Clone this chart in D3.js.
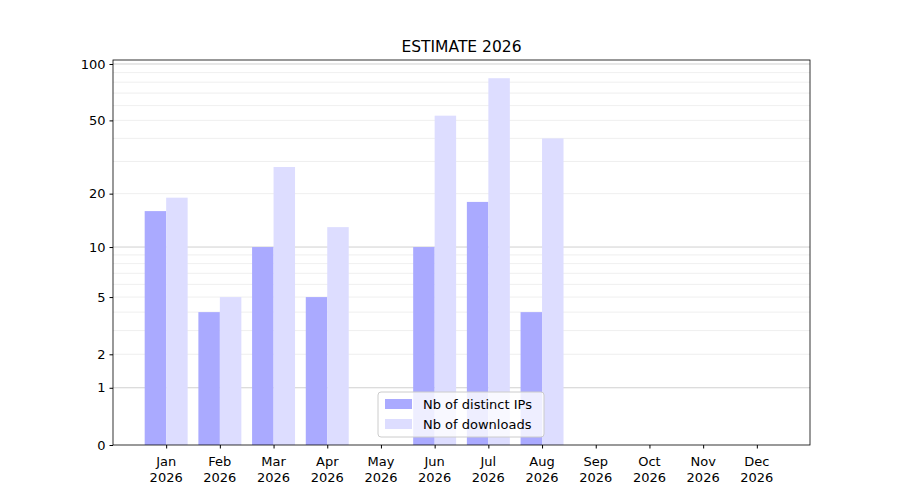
<!DOCTYPE html>
<html><head><meta charset="utf-8">
<script src="https://cdn.jsdelivr.net/npm/d3@7"></script>
<style>body{margin:0;background:#fff}text{font-family:"DejaVu Sans",sans-serif}</style>
</head><body><svg id="c" width="900" height="500"></svg>
<script>
const months = ["Jan","Feb","Mar","Apr","May","Jun","Jul","Aug","Sep","Oct","Nov","Dec"];
const ips = [16,4,10,5,0,10,18,4,0,0,0,0];
const downloads = [19,5,28,13,0,53,84,40,0,0,0,0];
const yTicks = [0,1,2,5,10,20,50,100];
const majorGrid = [1,10,100];
const minorGrid = [2,3,4,5,6,7,8,9,20,30,40,50,60,70,80,90];

const svg = d3.select("#c");
const L=113,R=810,T=60,B=445;
const x = d3.scaleLinear().domain([-0.99,11.99]).range([L,R]);
const y = d3.scaleSymlog().constant(1).domain([0,105]).range([B,T]);

svg.append("g").selectAll("line").data(minorGrid).join("line")
 .attr("x1",L).attr("x2",R).attr("y1",d=>y(d)).attr("y2",d=>y(d))
 .attr("stroke","#ebebeb").attr("stroke-width",0.8);
svg.append("g").selectAll("line").data(majorGrid).join("line")
 .attr("x1",L).attr("x2",R).attr("y1",d=>y(d)).attr("y2",d=>y(d))
 .attr("stroke","#c4c4c4").attr("stroke-width",0.8);

const bw=0.4;
svg.append("g").selectAll("rect").data(ips).join("rect")
 .attr("x",(d,i)=>x(i-bw)).attr("width",x(bw)-x(0))
 .attr("y",d=>y(d)).attr("height",d=>B-y(d)).attr("fill","#aaaaff");
svg.append("g").selectAll("rect").data(downloads).join("rect")
 .attr("x",(d,i)=>x(i)).attr("width",x(bw)-x(0))
 .attr("y",d=>y(d)).attr("height",d=>B-y(d)).attr("fill","#ddddff");

svg.append("rect").attr("x",L).attr("y",T).attr("width",R-L).attr("height",B-T)
 .attr("fill","none").attr("stroke","#000").attr("stroke-width",0.8);

const ya = svg.append("g").attr("transform",`translate(${L},0)`)
 .call(d3.axisLeft(y).tickValues(yTicks).tickFormat(d3.format("d")).tickSize(3.5).tickPadding(4));
ya.select(".domain").remove();
ya.selectAll("text").attr("font-size",13).attr("fill","#000");

const xa = svg.append("g").attr("transform",`translate(0,${B})`)
 .call(d3.axisBottom(x).tickValues(d3.range(12)).tickFormat("").tickSize(3.5));
xa.select(".domain").remove();
const lab = svg.append("g").selectAll("text").data(months).join("text")
 .attr("x",(d,i)=>x(i)).attr("text-anchor","middle").attr("font-size",13);
lab.append("tspan").attr("x",(d,i)=>x(i)).attr("y",466).text(d=>d);
lab.append("tspan").attr("x",(d,i)=>x(i)).attr("y",482).text("2026");

svg.append("text").attr("x",(L+R)/2).attr("y",52).attr("text-anchor","middle")
 .attr("font-size",15.5).text("ESTIMATE 2026");

const lg = svg.append("g").attr("transform","translate(378,392)");
lg.append("rect").attr("width",166).attr("height",45).attr("rx",3)
 .attr("fill","rgba(255,255,255,0.8)").attr("stroke","#ccc");
[["Nb of distinct IPs","#aaaaff"],["Nb of downloads","#ddddff"]].forEach((s,i)=>{
 lg.append("rect").attr("x",7).attr("y",7+i*20).attr("width",27).attr("height",10).attr("fill",s[1]);
 lg.append("text").attr("x",45).attr("y",17+i*20).attr("font-size",13).text(s[0]);
});
</script></body></html>
